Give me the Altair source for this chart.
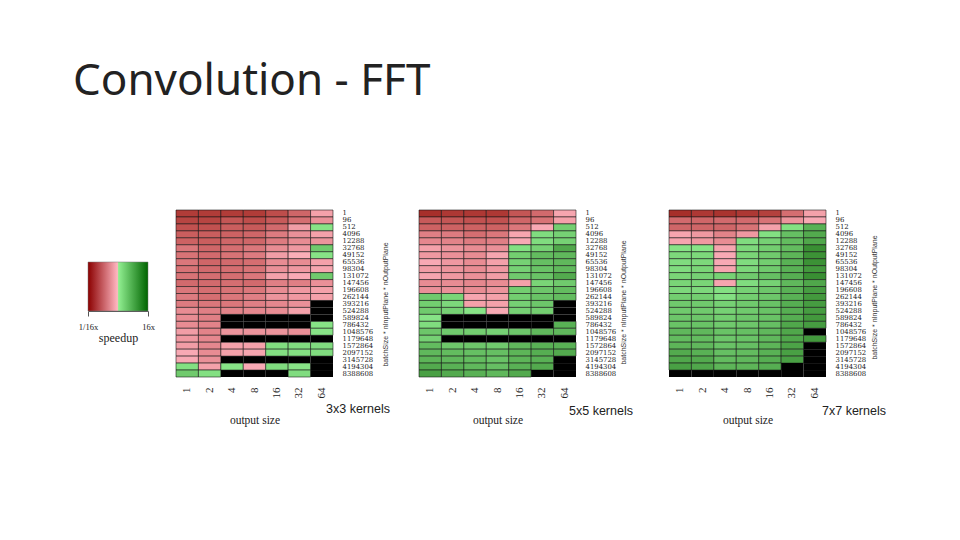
import altair as alt
import pandas as pd

rows = [1, 96, 512, 4096, 12288, 32768, 49152, 65536, 98304, 131072, 147456, 196608,
        262144, 393216, 524288, 589824, 786432, 1048576, 1179648, 1572864, 2097152,
        3145728, 4194304, 8388608]
cols = [1, 2, 4, 8, 16, 32, 64]
N = None

k3 = [
 [-2.9,-2.9,-2.9,-2.9,-2.5,-1.9,-0.5],
 [-2.7,-2.7,-2.3,-2.5,-2.2,-1.7,-0.9],
 [-2.4,-2.4,-2.1,-2.2,-1.8,-0.6,0.3],
 [-2.1,-2.1,-2.0,-1.9,-1.4,-0.9,-0.5],
 [-2.0,-2.1,-1.9,-1.9,-1.4,-1.0,-0.8],
 [-1.5,-1.9,-1.7,-1.5,-1.0,-0.7,1.0],
 [-1.6,-1.8,-1.6,-1.4,-0.6,-0.2,0.3],
 [-1.5,-1.9,-1.8,-1.7,-1.0,-1.0,-0.5],
 [-1.6,-1.8,-1.7,-1.6,-0.9,-0.7,-0.4],
 [-1.6,-1.7,-1.7,-1.5,-0.5,-0.3,1.0],
 [-1.8,-1.8,-1.7,-1.8,-1.3,-1.3,-0.9],
 [-1.5,-1.7,-1.6,-1.5,-1.0,-0.7,-0.5],
 [-1.4,-1.7,-1.5,-1.3,-0.8,-0.7,-0.5],
 [-1.4,-1.5,-1.5,-1.3,-1.1,-0.9,N],
 [-1.0,-1.3,-1.2,-1.1,-1.0,-0.5,N],
 [-1.0,-1.3,N,N,N,N,N],
 [-1.0,-1.2,N,N,N,N,0.3],
 [-0.6,-1.2,-0.8,-0.8,-0.8,-0.9,0.3],
 [-0.7,-1.1,N,N,N,N,N],
 [-0.6,-1.1,-0.5,-0.5,0.5,0.5,0.5],
 [-0.3,-1.0,-0.5,-0.4,0.4,0.4,0.5],
 [-0.3,-0.9,N,N,N,N,N],
 [0.4,-0.5,0.3,-0.3,0.5,0.3,N],
 [1.0,0.4,N,N,N,0.5,N],
]
k5 = [
 [-3.2,-3.0,-3.0,-3.0,-2.3,-1.8,-0.4],
 [-2.2,-2.3,-2.4,-2.4,-1.9,-1.6,-0.5],
 [-2.0,-2.0,-2.0,-2.0,-1.5,-0.3,0.9],
 [-1.3,-1.4,-1.7,-1.5,-0.4,0.5,0.8],
 [-1.1,-1.2,-1.4,-1.3,-0.3,0.5,0.8],
 [-0.5,-0.8,-1.0,-0.9,0.4,0.8,2.0],
 [-0.7,-0.9,-1.0,-0.4,0.9,1.4,1.5],
 [-0.3,-0.7,-1.0,-0.5,0.8,1.3,1.5],
 [-0.6,-0.8,-1.0,-0.7,0.8,1.2,1.5],
 [-0.4,-0.7,-0.9,-0.6,1.0,1.2,1.9],
 [-1.0,-1.0,-1.1,-1.0,-0.5,0.7,1.0],
 [-0.9,-0.9,-1.0,-0.8,0.9,1.1,1.4],
 [1.0,0.7,-0.4,-0.5,0.9,1.2,1.4],
 [0.9,0.6,-0.5,-0.5,0.8,1.1,N],
 [1.0,0.8,0.3,-0.3,0.8,0.9,N],
 [0.3,N,N,N,N,N,N],
 [0.5,N,N,N,N,N,1.7],
 [1.1,1.0,0.9,0.8,1.1,1.5,1.5],
 [0.8,N,N,N,N,N,N],
 [1.4,1.1,1.1,1.0,1.5,1.7,1.7],
 [1.5,1.4,1.3,1.3,1.6,1.8,1.9],
 [1.6,1.5,1.4,1.2,1.6,1.7,N],
 [1.9,1.7,1.5,1.3,1.7,1.9,N],
 [2.2,1.9,1.7,1.5,1.9,N,N],
]
k7 = [
 [-3.2,-3.0,-3.1,-3.0,-2.8,-1.7,-0.5],
 [-1.8,-1.9,-1.8,-1.8,-1.6,-0.8,-0.3],
 [-1.9,-1.9,-1.9,-1.6,-0.5,0.4,1.7],
 [-0.4,-0.7,-1.2,-0.7,0.4,1.3,1.9],
 [-0.4,-0.7,-1.0,0.5,0.8,1.4,2.0],
 [0.3,0.3,-0.4,0.6,0.9,1.4,2.7],
 [0.6,0.6,-0.3,0.7,1.0,1.6,2.6],
 [0.5,0.6,-0.3,0.5,0.9,1.7,2.6],
 [0.5,0.7,-0.4,0.6,1.0,1.7,2.4],
 [0.7,0.8,0.8,1.0,1.3,1.8,2.7],
 [0.7,0.7,-0.4,0.5,0.8,1.5,2.0],
 [0.6,0.6,0.4,0.8,1.1,1.7,2.3],
 [0.9,0.9,0.4,0.9,1.1,1.7,2.4],
 [1.0,1.0,0.8,1.0,1.2,1.8,2.3],
 [1.0,1.0,0.8,1.0,1.2,1.8,2.3],
 [1.1,1.1,0.9,1.1,1.2,1.8,2.4],
 [1.2,1.2,1.0,1.1,1.3,2.0,2.3],
 [1.5,1.5,1.2,1.3,1.5,2.0,N],
 [1.4,1.4,1.1,1.2,1.5,2.0,2.4],
 [1.6,1.5,1.2,1.3,1.6,2.1,N],
 [1.9,1.7,1.3,1.4,1.7,2.2,N],
 [2.0,1.9,1.4,1.5,1.8,2.2,N],
 [2.2,2.0,1.6,1.6,1.8,N,N],
 [N,N,N,N,N,N,N],
]

SERIF = "Liberation Serif"
ROWFONT = "DejaVu Serif"
SANS = "Liberation Sans"
PW, PH = 157, 167
color_scale = alt.Scale(domain=[-4, -0.01, 0.01, 4],
                        range=["#8b0000", "#ffb6c1", "#90ee90", "#006400"])

def panel(values, label, title_x, title_y, label_x, label_y):
    df = pd.DataFrame([
        {"row": str(r), "col": str(c), "v": values[i][j]}
        for i, r in enumerate(rows) for j, c in enumerate(cols)
    ])
    x = alt.X("col:N", sort=[str(c) for c in cols], scale=alt.Scale(paddingInner=0, paddingOuter=0),
              axis=alt.Axis(title="output size", titleFont=SERIF, titleFontSize=11.5,
                            titleFontWeight="normal", titleColor="#222", titleY=37,
                            labelAngle=270, labelFont=SERIF, labelFontSize=11, labelColor="#222",
                            labelPadding=10, labelBaseline="middle", labelAlign="right",
                            domain=False, ticks=False, grid=False))
    y = alt.Y("row:N", sort=[str(r) for r in rows], scale=alt.Scale(paddingInner=0, paddingOuter=0),
              axis=alt.Axis(orient="right", title="batchSize * nInputPlane * nOutputPlane",
                            titleFont=SANS, titleFontSize=7, titleFontWeight="normal",
                            titleColor="#333", titleAngle=270, titleX=title_x, titleY=title_y,
                            labelFont=ROWFONT, labelFontSize=6.9, labelColor="#222", labelPadding=9,
                            labelOverlap=False, domain=False, ticks=False, grid=False))
    base = alt.Chart(df).encode(x=x, y=y)
    cells = base.mark_rect(stroke="#111111", strokeWidth=0.7, strokeOpacity=0.8).encode(
        color=alt.Color("v:Q", scale=color_scale, legend=None)
    ).transform_filter("datum.v !== null")
    blanks = base.mark_rect(fill="#000000").transform_filter("datum.v === null")
    text = alt.Chart(pd.DataFrame({"t": [label]})).mark_text(
        font=SANS, fontSize=12.5, align="left", baseline="middle", color="#222222"
    ).encode(text="t:N", x=alt.value(label_x), y=alt.value(label_y))
    return alt.layer(cells, blanks, text).properties(width=PW, height=PH)

ramp = pd.DataFrame({"lo": [-4], "hi": [4]})
gradient = alt.Gradient(gradient="linear", x1=0, x2=1, y1=0, y2=0, stops=[
    alt.GradientStop(color="#8b0000", offset=0),
    alt.GradientStop(color="#ffb6c1", offset=0.49),
    alt.GradientStop(color="#90ee90", offset=0.51),
    alt.GradientStop(color="#006400", offset=1),
])
legend = alt.Chart(ramp).mark_rect(fill=gradient, stroke="#777777", strokeWidth=0.5).encode(
    x=alt.X("lo:Q", scale=alt.Scale(domain=[-4, 4], nice=False),
            axis=alt.Axis(values=[-4, 4], labelExpr="datum.value < 0 ? '1/16x' : '16x'",
                          title="speedup", titleFont=SERIF, titleFontSize=12,
                          titleFontWeight="normal", titleColor="#222", titlePadding=2,
                          labelFont=SERIF, labelFontSize=8.5, labelColor="#222", labelFlush=False,
                          labelAlign="center", labelPadding=6, tickSize=5, tickColor="#555",
                          domainColor="#555", grid=False)),
    x2="hi:Q",
    y=alt.value(52), y2=alt.value(101),
).properties(width=60, height=101)

def spacer(w):
    return alt.Chart(ramp).mark_point(opacity=0).encode(
        x=alt.value(0), y=alt.value(0)).properties(width=w, height=10)

chart = alt.hconcat(
    legend, spacer(28),
    panel(k3, "3x3 kernels", 55, 94, 150, 199), spacer(86),
    panel(k5, "5x5 kernels", 50, 92, 150, 201), spacer(93),
    panel(k7, "7x7 kernels", 51, 87, 153, 201),
    spacing=0, bounds="flush",
    title=alt.TitleParams("Convolution - FFT", font="Noto Sans", fontSize=44, fontWeight="normal",
                          color="#222222", anchor="start", frame="group", dx=-15, offset=103),
    padding={"left": 65, "top": 52, "right": 5, "bottom": 5},
).configure_view(stroke=None).configure_concat(spacing=0)

chart.save("out.html", embed_options={"renderer": "svg", "actions": False})
